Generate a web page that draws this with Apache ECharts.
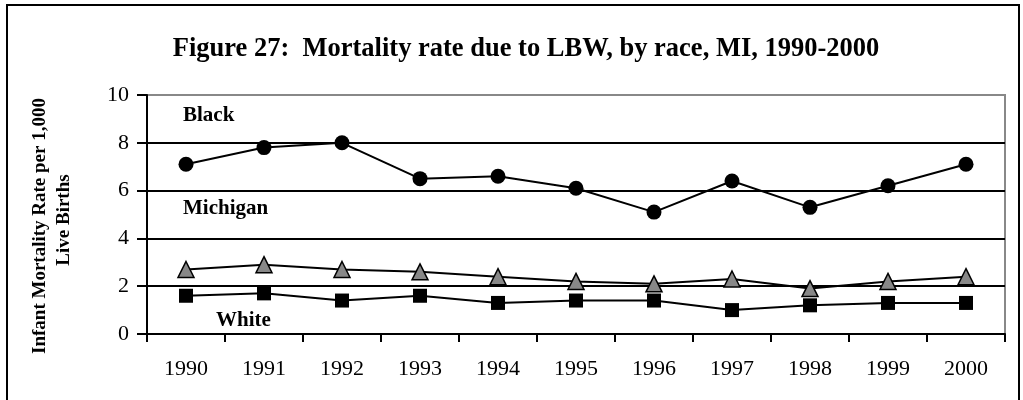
<!DOCTYPE html>
<html>
<head>
<meta charset="utf-8">
<script src="https://cdn.jsdelivr.net/npm/echarts@6/dist/echarts.min.js"></script>
<style>html,body{margin:0;padding:0;background:#fff;}#c{width:1023px;height:400px;}</style>
</head>
<body>
<div id="c"></div>
<script>
const years = ['1990','1991','1992','1993','1994','1995','1996','1997','1998','1999','2000'];
const black = [7.1, 7.8, 8.0, 6.5, 6.6, 6.1, 5.1, 6.4, 5.3, 6.2, 7.1];
const michigan = [2.7, 2.9, 2.7, 2.6, 2.4, 2.2, 2.1, 2.3, 1.9, 2.2, 2.4];
const white = [1.6, 1.7, 1.4, 1.6, 1.3, 1.4, 1.4, 1.0, 1.2, 1.3, 1.3];
const yTicks = [0, 2, 4, 6, 8, 10];

const F = 'Liberation Serif, Times New Roman, serif';
const chart = echarts.init(document.getElementById('c'));
chart.setOption({
  animation: false,
  backgroundColor: '#fff',
  title: {
    text: 'Figure 27:  Mortality rate due to LBW, by race, MI, 1990-2000',
    left: 521, top: 31, textAlign: 'center',
    textStyle: {fontFamily: F, fontWeight: 'bold', fontSize: 26.5, color: '#000'}
  },
  grid: {left: 147, right: 18, top: 95, bottom: 66, show: true, borderColor: '#888', borderWidth: 2, outerBoundsMode: 'none'},
  xAxis: {
    type: 'category', data: years, boundaryGap: true,
    axisLine: {lineStyle: {color: '#000', width: 2}},
    axisTick: {show: true, length: 8, lineStyle: {color: '#000', width: 2}},
    axisLabel: {fontFamily: F, fontSize: 22, color: '#000', margin: 24}
  },
  yAxis: {
    type: 'value', min: yTicks[0], max: yTicks[yTicks.length-1], interval: 2,
    axisLine: {show: true, lineStyle: {color: '#000', width: 2}},
    axisTick: {show: true, length: 10, lineStyle: {color: '#000', width: 2}},
    axisLabel: {fontFamily: F, fontSize: 22, color: '#000', margin: 18},
    splitLine: {show: true, lineStyle: {color: ['#000','#000','#000','#000','#000','#888'], width: 2}}
  },
  series: [
    {name: 'Black', type: 'line', data: black, symbol: 'circle', symbolSize: 15,
     lineStyle: {color: '#000', width: 2}, itemStyle: {color: '#000'}},
    {name: 'Michigan', type: 'line', data: michigan, symbol: 'triangle', symbolSize: 16,
     lineStyle: {color: '#000', width: 2}, itemStyle: {color: '#888', borderColor: '#000', borderWidth: 1.5}},
    {name: 'White', type: 'line', data: white, symbol: 'rect', symbolSize: 14,
     lineStyle: {color: '#000', width: 2}, itemStyle: {color: '#000'}}
  ],
  graphic: [
    {type: 'rect', shape: {x: 7, y: 5, width: 1012, height: 420}, style: {fill: 'none', stroke: '#000', lineWidth: 2}, silent: true},
    {type: 'text', x: 40, y: 226, rotation: Math.PI / 2,
     style: {text: 'Infant Mortality Rate per 1,000', font: 'bold 19px ' + F, fill: '#000', align: 'center', verticalAlign: 'middle'}},
    {type: 'text', x: 64, y: 220, rotation: Math.PI / 2,
     style: {text: 'Live Births', font: 'bold 19px ' + F, fill: '#000', align: 'center', verticalAlign: 'middle'}},
    {type: 'text', x: 183, y: 116, style: {text: 'Black', font: 'bold 21px ' + F, fill: '#000', verticalAlign: 'middle'}},
    {type: 'text', x: 183, y: 209, style: {text: 'Michigan', font: 'bold 21px ' + F, fill: '#000', verticalAlign: 'middle'}},
    {type: 'text', x: 216, y: 321, style: {text: 'White', font: 'bold 21px ' + F, fill: '#000', verticalAlign: 'middle'}}
  ]
});
</script>
</body>
</html>
